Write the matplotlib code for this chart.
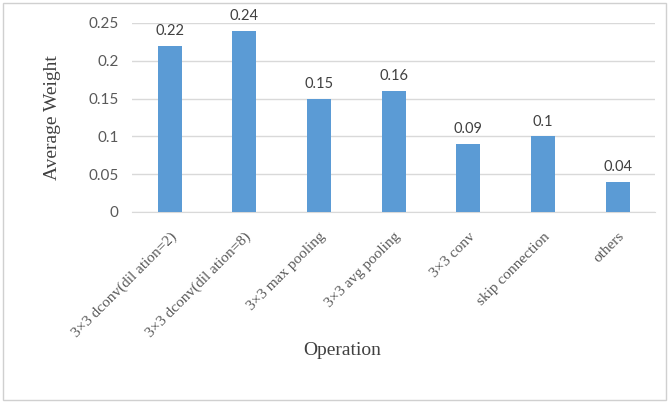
import matplotlib
matplotlib.use('Agg')
import matplotlib.pyplot as plt
from matplotlib.patches import Rectangle

# operations and their average weights
operations = ['3×3 dconv(dil ation=2)', '3×3 dconv(dil ation=8)', '3×3 max pooling',
              '3×3 avg pooling', '3×3 conv', 'skip connection', 'others']
weights = [0.22, 0.24, 0.15, 0.16, 0.09, 0.10, 0.04]
weight_labels = ['0.22', '0.24', '0.15', '0.16', '0.09', '0.1', '0.04']
yticks = [0, 0.05, 0.1, 0.15, 0.2, 0.25]
ytick_labels = ['0', '0.05', '0.1', '0.15', '0.2', '0.25']

fig = plt.figure(figsize=(6.69, 4.03), dpi=100)
ax = fig.add_axes([0.198, 0.474, 0.781, 0.469])

# outer chart border
fig.patches.append(Rectangle((0.005, 0.008), 0.99, 0.984, transform=fig.transFigure,
                             fill=False, edgecolor='#d0d0d0', linewidth=1))

x = range(len(operations))
ax.bar(x, weights, width=0.32, color='#5b9bd5', zorder=3)

for i, (w, lab) in enumerate(zip(weights, weight_labels)):
    ax.text(i, w + 0.01, lab, ha='center', va='bottom', fontsize=10.5,
            family='Lato', color='#404040', clip_on=False)

ax.set_xlim(-0.5, len(operations) - 0.5)
ax.set_ylim(0, 0.25)
ax.set_yticks(yticks)
ax.set_yticklabels(ytick_labels, family='Lato', fontsize=11, color='#595959')
ax.yaxis.grid(True, color='#d9d9d9', linewidth=1, zorder=0)
ax.tick_params(axis='both', length=0, pad=10)

ax.set_xticks(list(x))
ax.set_xticklabels(operations, rotation=45, ha='right', rotation_mode='anchor',
                   family='Liberation Serif', fontsize=11, color='#595959')
ax.tick_params(axis='x', pad=13)

for s in ['top', 'right', 'left']:
    ax.spines[s].set_visible(False)
ax.spines['bottom'].set_color('#d9d9d9')

ax.set_ylabel('Average Weight', family='Liberation Serif', fontsize=14, color='#404040', labelpad=20)
fig.text(0.511, 0.13, 'Operation', ha='center', va='center', family='Liberation Serif',
         fontsize=14, color='#404040')

fig.savefig('out.png', dpi=100)
